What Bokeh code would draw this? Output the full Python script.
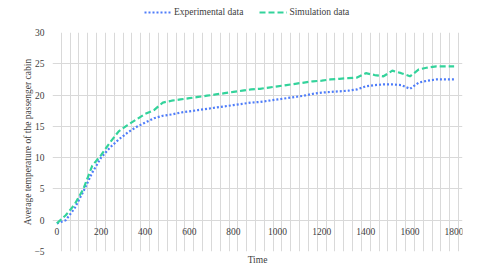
from bokeh.plotting import figure
from bokeh.models import FixedTicker, Legend, LegendItem, ColumnDataSource, LinearAxis, Range1d
from bokeh.layouts import column
from bokeh.embed import file_html
from bokeh.resources import INLINE

# ---- data ----
time = list(range(0, 1801, 40))
experimental = [
    -0.5, 0.0, 1.9, 4.6, 7.6, 10.0, 11.6, 12.9, 14.0, 14.9,
    15.6, 16.3, 16.7, 16.9, 17.2, 17.4, 17.6, 17.8, 18.0, 18.2,
    18.4, 18.6, 18.8, 18.9, 19.1, 19.3, 19.5, 19.7, 19.9, 20.2,
    20.4, 20.5, 20.6, 20.7, 20.9, 21.4, 21.6, 21.7, 21.7, 21.6,
    21.0, 22.0, 22.3, 22.5, 22.5, 22.5,
]
simulation = [
    -0.5, 0.8, 2.5, 5.0, 8.7, 10.4, 12.4, 14.2, 15.2, 16.1,
    17.0, 17.6, 18.8, 19.1, 19.3, 19.5, 19.7, 19.9, 20.1, 20.3,
    20.5, 20.7, 20.9, 21.0, 21.2, 21.4, 21.6, 21.8, 22.0, 22.2,
    22.3, 22.5, 22.6, 22.7, 22.8, 23.5, 23.2, 23.0, 23.9, 23.5,
    23.0, 24.1, 24.4, 24.6, 24.6, 24.6,
]
series_names = ["Experimental data", "Simulation data"]
x_tick_labels = [0, 200, 400, 600, 800, 1000, 1200, 1400, 1600, 1800]
y_ticks = [-5, 0, 5, 10, 15, 20, 25, 30]
step = 40

FONT = "Liberation Serif"
FS = "9.5px"
GRID = "#d9d9d9"
BLUE = "#4f7df9"
GREEN = "#33d39b"
TXT = "#404040"
STYLE_EXP = dict(line_color=BLUE, line_width=2.2, line_dash="2 2")
STYLE_SIM = dict(line_color=GREEN, line_width=2.2, line_dash="6 3")

src = ColumnDataSource(dict(t=time, exp=experimental, sim=simulation))

# ---------- main chart ----------
p = figure(width=480, height=247, output_backend="svg",
           toolbar_location=None, x_axis_location=None,
           x_range=(-step / 2, 1800 + step / 2 + 18), y_range=(-5, 30),
           min_border_left=52, min_border_right=18, min_border_top=8,
           min_border_bottom=20)
p.outline_line_color = None
p.background_fill_color = "white"
p.border_fill_color = "white"

p.line("t", "exp", source=src, **STYLE_EXP)
p.line("t", "sim", source=src, **STYLE_SIM)

# tick-label axis placed at y = 0 (category-style axis)
xa = LinearAxis(ticker=FixedTicker(ticks=x_tick_labels), fixed_location=0,
                axis_line_color=None, major_tick_line_color=None,
                minor_tick_line_color=None, major_label_text_font=FONT,
                major_label_text_font_size=FS,
                major_label_text_color=TXT, major_label_standoff=2)
p.add_layout(xa, "below")

# title axis at the bottom
xt = LinearAxis(ticker=FixedTicker(ticks=[]), axis_line_color=None,
                major_tick_line_color=None, minor_tick_line_color=None,
                major_label_text_font_size="0px", major_label_standoff=0,
                major_tick_out=0, axis_label="Time", axis_label_standoff=3,
                axis_label_text_font=FONT, axis_label_text_font_size=FS,
                axis_label_text_font_style="normal",
                axis_label_text_color=TXT)
p.add_layout(xt, "below")

p.yaxis.ticker = FixedTicker(ticks=y_ticks)
p.yaxis.axis_line_color = None
p.yaxis.major_tick_line_color = None
p.yaxis.minor_tick_line_color = None
p.yaxis.major_tick_out = 0
p.yaxis.major_tick_in = 0
p.yaxis.major_label_text_font = FONT
p.yaxis.major_label_text_font_size = FS
p.yaxis.major_label_text_color = TXT
p.yaxis.major_label_standoff = 8
p.yaxis.axis_label = "Average temperature of the passenger cabin"
p.yaxis.axis_label_text_font = FONT
p.yaxis.axis_label_text_font_style = "normal"
p.yaxis.axis_label_text_font_size = FS
p.yaxis.axis_label_text_color = TXT
p.yaxis.axis_label_standoff = -2

grid_lines = [-step / 2 + step * i for i in range(len(time) + 1)]
p.xgrid.ticker = FixedTicker(ticks=grid_lines)
p.xgrid.grid_line_color = GRID
p.ygrid.ticker = FixedTicker(ticks=y_ticks)
p.ygrid.grid_line_color = GRID

# ---------- legend strip ----------
lg = figure(width=480, height=24, output_backend="svg", toolbar_location=None,
            x_axis_location=None, y_axis_location=None, min_border=0,
            x_range=Range1d(5000, 5001), y_range=Range1d(5000, 5001))
lg.outline_line_color = None
lg.grid.visible = False
lg.border_fill_color = "white"
lg.background_fill_color = "white"
e1 = lg.line("t", "exp", source=src, **STYLE_EXP)
e2 = lg.line("t", "sim", source=src, **STYLE_SIM)
legend = Legend(items=[LegendItem(label=series_names[0], renderers=[e1]),
                       LegendItem(label=series_names[1], renderers=[e2])],
                orientation="horizontal", location=(92, 7),
                label_text_font=FONT, label_text_font_size=FS,
                label_text_color=TXT, glyph_width=28, glyph_height=10,
                label_height=10, label_standoff=2, spacing=16, padding=2,
                margin=0, border_line_color=None, background_fill_alpha=0)
lg.add_layout(legend, "center")

layout = column(lg, p, spacing=0)
open("out.html", "w").write(file_html(layout, INLINE))
